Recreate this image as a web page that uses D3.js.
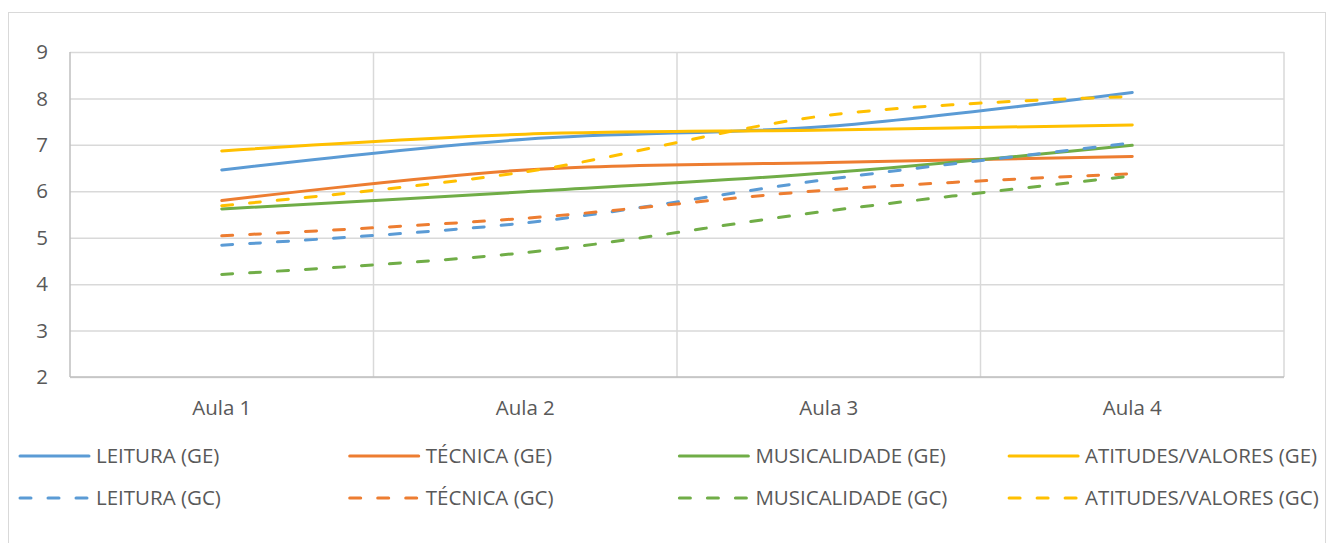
<!DOCTYPE html>
<html>
<head>
<meta charset="utf-8">
<script src="https://cdn.jsdelivr.net/npm/d3@7.9.0/dist/d3.min.js"></script>
<style>
  body { margin: 0; background: #fff; }
  svg text { font-family: "Open Sans", "Liberation Sans", sans-serif; fill: #595959; }
</style>
</head>
<body>
<div id="chart"></div>
<script>
// categories and values
const aulas = ['Aula 1', 'Aula 2', 'Aula 3', 'Aula 4'];
const yTicks = [2, 3, 4, 5, 6, 7, 8, 9];

const leituraGE = [6.46, 7.12, 7.40, 8.13];
const tecnicaGE = [5.80, 6.46, 6.62, 6.75];
const musicalidadeGE = [5.62, 5.99, 6.40, 6.99];
const atitudesGE = [6.87, 7.23, 7.32, 7.43];
const leituraGC = [4.84, 5.32, 6.26, 7.04];
const tecnicaGC = [5.04, 5.42, 6.03, 6.38];
const musicalidadeGC = [4.21, 4.68, 5.58, 6.33];
const atitudesGC = [5.69, 6.42, 7.64, 8.04];

const series = [
  { name: 'LEITURA (GE)', values: leituraGE, color: '#5B9BD5', dashed: false },
  { name: 'TÉCNICA (GE)', values: tecnicaGE, color: '#ED7D31', dashed: false },
  { name: 'MUSICALIDADE (GE)', values: musicalidadeGE, color: '#70AD47', dashed: false },
  { name: 'ATITUDES/VALORES (GE)', values: atitudesGE, color: '#FFC000', dashed: false },
  { name: 'LEITURA (GC)', values: leituraGC, color: '#5B9BD5', dashed: true },
  { name: 'TÉCNICA (GC)', values: tecnicaGC, color: '#ED7D31', dashed: true },
  { name: 'MUSICALIDADE (GC)', values: musicalidadeGC, color: '#70AD47', dashed: true },
  { name: 'ATITUDES/VALORES (GC)', values: atitudesGC, color: '#FFC000', dashed: true }
];

const width = 1329, height = 543;
const margin = { top: 52, right: 45, bottom: 166, left: 70 };
const dash = '11,17';
const fontSize = '20.5px';

const svg = d3.select('#chart').append('svg')
  .attr('width', width)
  .attr('height', height);

// outer chart border
svg.append('rect')
  .attr('x', 8.5).attr('y', 12.5)
  .attr('width', 1317).attr('height', 560)
  .attr('fill', 'none')
  .attr('stroke', '#d9d9d9');

const x = d3.scaleBand()
  .domain(aulas)
  .range([margin.left, width - margin.right]);

const y = d3.scaleLinear()
  .domain([2, 9])
  .range([height - margin.bottom, margin.top]);

// horizontal gridlines
svg.append('g')
  .attr('transform', `translate(${margin.left},0)`)
  .call(d3.axisLeft(y).tickValues(yTicks).tickFormat('').tickSize(-(width - margin.left - margin.right)))
  .call(g => g.select('.domain').remove())
  .selectAll('line')
  .attr('stroke', '#d9d9d9')
  .attr('stroke-width', 1.5);

// vertical gridlines between categories
svg.append('g')
  .selectAll('line')
  .data(aulas.slice(1).concat(['end']))
  .join('line')
  .attr('x1', d => d === 'end' ? x.range()[1] : x(d))
  .attr('x2', d => d === 'end' ? x.range()[1] : x(d))
  .attr('y1', y(9))
  .attr('y2', y(2))
  .attr('stroke', '#d9d9d9')
  .attr('stroke-width', 1.5);

// axis lines
svg.append('line')
  .attr('x1', margin.left).attr('x2', margin.left)
  .attr('y1', y(9)).attr('y2', y(2))
  .attr('stroke', '#bfbfbf').attr('stroke-width', 1.5);
svg.append('line')
  .attr('x1', margin.left).attr('x2', width - margin.right)
  .attr('y1', y(2)).attr('y2', y(2))
  .attr('stroke', '#bfbfbf').attr('stroke-width', 1.5);

// y tick labels
svg.append('g')
  .selectAll('text')
  .data(yTicks)
  .join('text')
  .attr('x', 48)
  .attr('y', d => y(d))
  .attr('dy', '0.35em')
  .attr('text-anchor', 'end')
  .attr('font-size', fontSize)
  .text(d => d);

// x tick labels
svg.append('g')
  .selectAll('text')
  .data(aulas)
  .join('text')
  .attr('x', d => x(d) + x.bandwidth() / 2)
  .attr('y', 408)
  .attr('dy', '0.35em')
  .attr('text-anchor', 'middle')
  .attr('font-size', fontSize)
  .text(d => d);

// lines
const line = d3.line()
  .x((d, i) => x(aulas[i]) + x.bandwidth() / 2)
  .y(d => y(d))
  .curve(d3.curveCardinal.tension(0));

svg.append('g')
  .selectAll('path')
  .data(series)
  .join('path')
  .attr('d', d => line(d.values))
  .attr('fill', 'none')
  .attr('stroke', d => d.color)
  .attr('stroke-width', 3)
  .attr('stroke-linecap', 'round')
  .attr('stroke-dasharray', d => d.dashed ? dash : null);

// legend: 4 columns x 2 rows
const legend = svg.append('g')
  .selectAll('g')
  .data(series)
  .join('g')
  .attr('transform', (d, i) => `translate(${20 + (i % 4) * 329.7},${i < 4 ? 456 : 498})`);

legend.append('line')
  .attr('x1', 0).attr('x2', 69)
  .attr('stroke', d => d.color)
  .attr('stroke-width', 3)
  .attr('stroke-linecap', 'round')
  .attr('stroke-dasharray', d => d.dashed ? '11,17' : null);

legend.append('text')
  .attr('x', 76)
  .attr('dy', '0.35em')
  .attr('font-size', fontSize)
  .text(d => d.name);
</script>
</body>
</html>
